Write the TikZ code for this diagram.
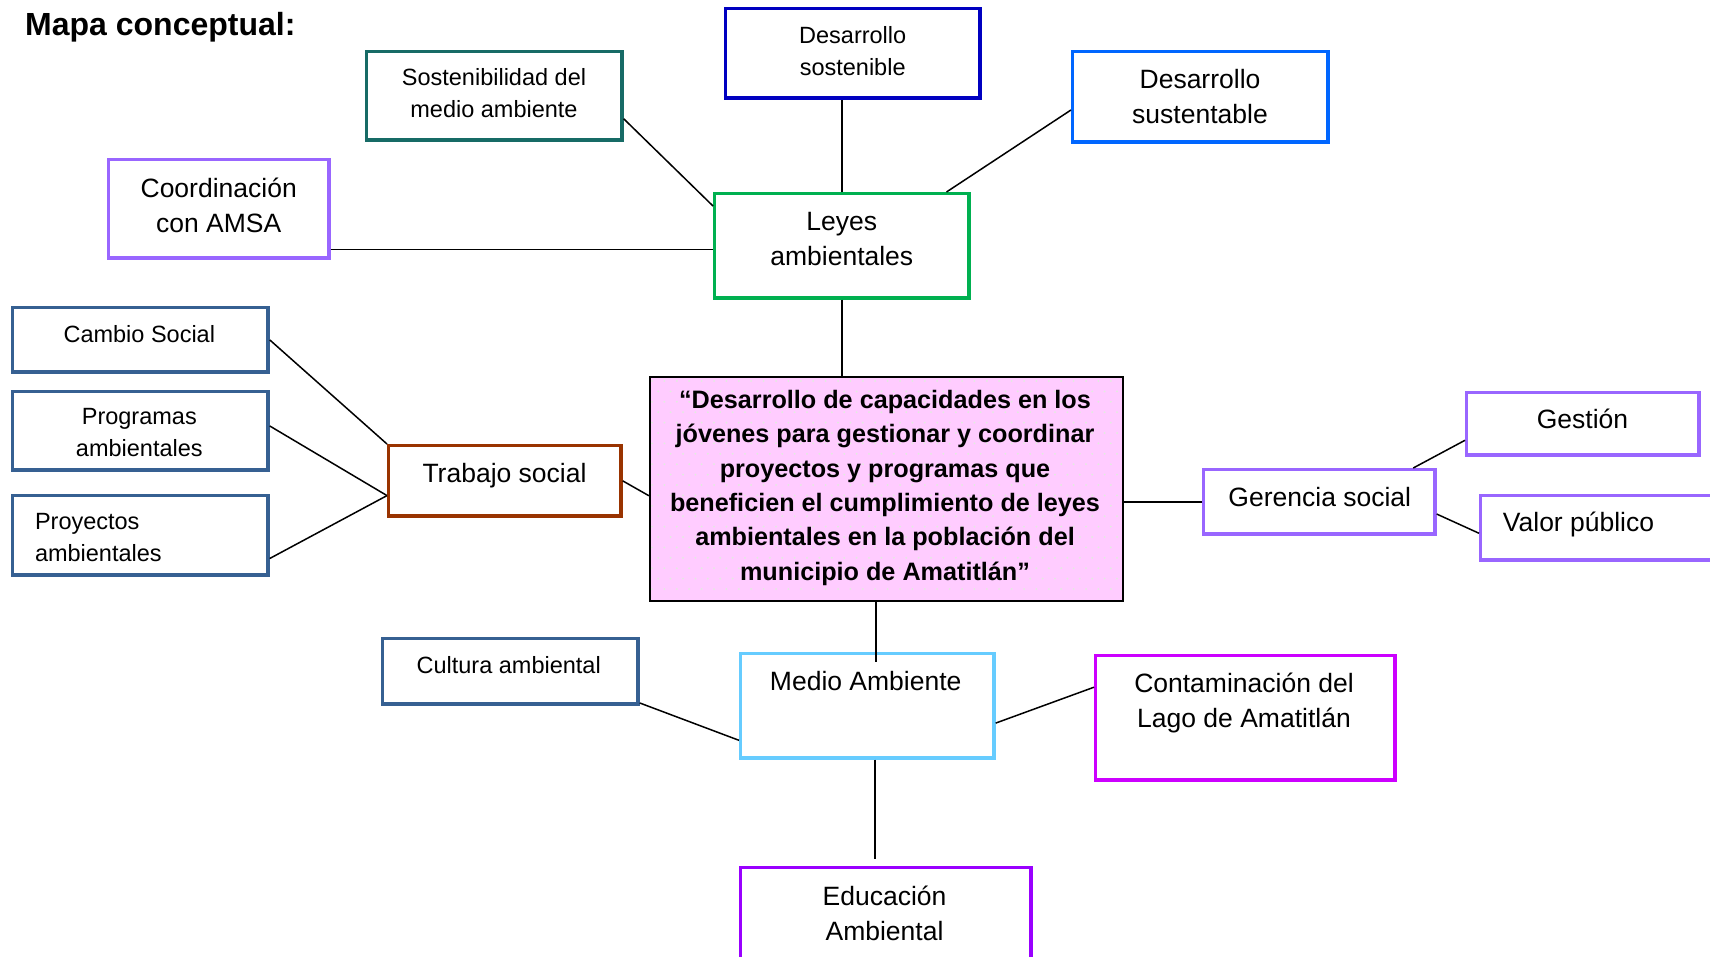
\documentclass[tikz,border=0pt]{standalone}
\usepackage{fontspec}
\setmainfont{Liberation Sans}
\usetikzlibrary{calc}
\definecolor{teal1}{RGB}{23,107,102}
\definecolor{dblue}{RGB}{0,0,192}
\definecolor{mblue}{RGB}{0,102,255}
\definecolor{lav}{RGB}{153,102,255}
\definecolor{grn}{RGB}{0,176,80}
\definecolor{steel}{RGB}{54,96,146}
\definecolor{brn}{RGB}{153,51,0}
\definecolor{pinkf}{RGB}{255,204,255}
\definecolor{dotc}{RGB}{226,236,222}
\definecolor{lblue}{RGB}{102,204,255}
\definecolor{mag}{RGB}{204,0,255}
\definecolor{purp}{RGB}{153,0,255}
\begin{document}
\begin{tikzpicture}[x=1pt,y=-1pt,
 box/.style={draw=#1, line width=3.4pt, inner sep=0pt, anchor=north west},
 link/.style={line width=1.5pt, draw=black},
 txs/.style={font=\fontsize{23.5}{31.3}\selectfont, align=center, anchor=base, inner sep=0pt},
 txl/.style={font=\fontsize{26.5}{34.8}\selectfont, align=center, anchor=base, inner sep=0pt},
 txb/.style={font=\bfseries\fontsize{25.2}{34.3}\selectfont, align=center, anchor=base, inner sep=0pt},
]
\clip (0,0) rectangle (1710,956);
\fill[white] (0,0) rectangle (1710,956);

% boxes
\node[box=teal1, minimum width=255.3pt, minimum height=88.3pt] (sost) at (365,50) {};
\node[box=dblue, minimum width=254.3pt, minimum height=89.3pt] (dsos) at (724,7) {};
\node[box=mblue, minimum width=255.3pt, minimum height=90.3pt] (dsus) at (1071,50) {};
\node[box=lav, minimum width=220.3pt, minimum height=98.3pt] (coord) at (107,158) {};
\node[box=grn, minimum width=254.3pt, minimum height=104.3pt] (leyes) at (713,192) {};
\node[box=steel, minimum width=255.3pt, minimum height=64.3pt] (cambio) at (11,306) {};
\node[box=steel, minimum width=255.3pt, minimum height=78.3pt] (prog) at (11,390) {};
\node[box=steel, minimum width=255.3pt, minimum height=79.3pt] (proy) at (11,494) {};
\node[box=brn, minimum width=232.3pt, minimum height=70.3pt] (trab) at (387,444) {};
\node[draw=black, fill=pinkf, line width=2pt, inner sep=0pt, anchor=north west, minimum width=473pt, minimum height=224pt] (center) at (649,376) {};
\node[box=lav, minimum width=231.3pt, minimum height=64.3pt] (ger) at (1202,468) {};
\node[box=lav, minimum width=232.3pt, minimum height=62.3pt] (gest) at (1465,391) {};
\node[box=lav, minimum width=252.7pt, minimum height=64.3pt] (valor) at (1479,494) {};
\node[box=steel, minimum width=255.3pt, minimum height=65.3pt] (cult) at (381,637) {};
\node[box=lblue, minimum width=253.3pt, minimum height=104.3pt] (medio) at (739,652) {};
\node[box=mag, minimum width=299.3pt, minimum height=124.3pt] (cont) at (1094,654) {};
\node[box=purp, minimum width=290.3pt, minimum height=122.7pt] (edu) at (739,866) {};

% dots in central box
\foreach \j in {0,...,20} {
  \foreach \i in {0,...,37} {
    \fill[dotc] ({652+12.4*\i+6.2*mod(\j,2)},{381+10.4*\j}) circle (1pt);
  }
}

% connectors
\draw[link] ($(sost.north east)!0.75!(sost.south east)$) -- ($(leyes.north west)!0.13!(leyes.south west)$);
\draw[link] (leyes.north) -- (leyes.north |- dsos.south);
\draw[link] ($(dsus.north west)!0.64!(dsus.south west)$) -- ($(leyes.north west)!0.906!(leyes.north east)$);
\draw[link] ($(coord.north east)!0.9!(coord.south east)$) coordinate (cl) -- (cl -| leyes.west);
\draw[link] (leyes.south) -- (leyes.south |- center.north);
\draw[link] (cambio.east) -- (trab.north west);
\draw[link] ($(prog.north east)!0.44!(prog.south east)$) -- ($(trab.north west)!0.7!(trab.south west)$);
\draw[link] ($(proy.north east)!0.78!(proy.south east)$) -- ($(trab.north west)!0.7!(trab.south west)$);
\draw[link] (trab.east) -- ($(center.north west)!0.53!(center.south west)$);
\draw[link] (ger.west) -- (ger.west -| center.east);
\draw[link] ($(ger.north west)!0.9!(ger.north east)$) -- ($(gest.north west)!0.75!(gest.south west)$);
\draw[link] ($(ger.north east)!0.68!(ger.south east)$) -- ($(valor.north west)!0.58!(valor.south west)$);
\draw[link, shorten >=-10pt] ($(center.south west)!0.478!(center.south east)$) coordinate (cb) -- (cb |- medio.north);
\draw[link] ($(cult.north east)!0.96!(cult.south east)$) -- ($(medio.north west)!0.82!(medio.south west)$);
\draw[link] ($(medio.north east)!0.66!(medio.south east)$) -- ($(cont.north west)!0.26!(cont.south west)$);
\draw[link, shorten >=7pt] ($(medio.south west)!0.53!(medio.south east)$) coordinate (mb) -- (mb |- edu.north);

% texts (multi-line nodes: base = baseline of last line)
\node[font=\bfseries\fontsize{32}{37}\selectfont, anchor=base west, inner sep=0pt] (title) at (25,35) {Mapa conceptual:};
\node[txs] (sostt) at (494,117) {Sostenibilidad del\\medio ambiente};
\node[txs] (dsost) at (852.7,75) {Desarrollo\\sostenible};
\node[txl] (dsust) at (1200,123) {Desarrollo\\sustentable};
\node[txl] (coordt) at (218.7,232) {Coordinación\\con AMSA};
\node[txl] (leyest) at (841.8,265) {Leyes\\ambientales};
\node[txs] (cambiot) at (139.3,342.7) {Cambio Social};
\node[txs] (progt) at (139.3,456) {Programas\\ambientales};
\node[txs, align=left, anchor=base west] (proyt) at (34.8,561) {Proyectos\\ambientales};
\node[txl] (trabt) at (504.5,482) {Trabajo social};
\node[txb] (centert) at (885,580) {“Desarrollo de capacidades en los\\jóvenes para gestionar y coordinar\\proyectos y programas que\\beneficien el cumplimiento de leyes\\ambientales en la población del\\municipio de Amatitlán”};
\node[txl] (gert) at (1319.8,506.7) {Gerencia social};
\node[txl] (gestt) at (1582.5,428.3) {Gestión};
\node[txl, anchor=base west] (valort) at (1502.7,531.7) {Valor público};
\node[txs] (cultt) at (508.7,673.3) {Cultura ambiental};
\node[txl] (mediot) at (865.7,690) {Medio Ambiente};
\node[txl] (contt) at (1244,727.7) {Contaminación del\\Lago de Amatitlán};
\node[txl] (edut) at (884.5,940) {Educación\\Ambiental};
\end{tikzpicture}
\end{document}
